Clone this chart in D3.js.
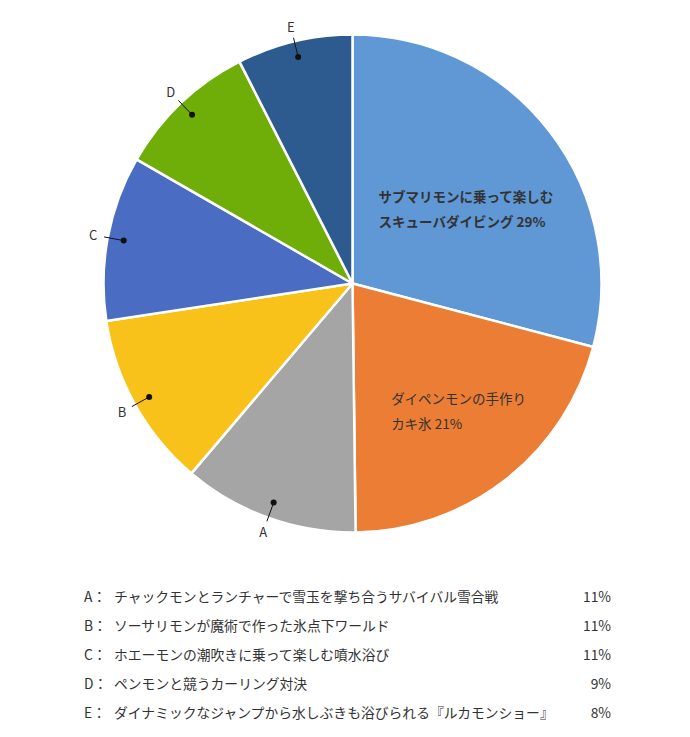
<!DOCTYPE html>
<html>
<head>
<meta charset="utf-8">
<script src="https://cdn.jsdelivr.net/npm/d3@7"></script>
<style>
  html, body { margin: 0; padding: 0; background: #fff; }
  svg text { font-family: "Noto Sans CJK JP", "Noto Sans", sans-serif; fill: #333; }
</style>
</head>
<body>
<div id="chart"></div>
<script>
(() => {
    const width = 690, height = 737;

    // slice order: clockwise from 12 o'clock
    const keys = ["main1", "main2", "A", "B", "C", "D", "E"];
    const shares = [29.1, 20.7, 11.4, 11.4, 10.7, 9.2, 7.5];
    const colors = ["#5F98D5", "#EB7D34", "#A5A5A5", "#F9C21A", "#4A6DC3", "#6FAD08", "#2E5B8F"];
    const insideLabels = [
        ["サブマリモンに乗って楽しむ", "スキューバダイビング"],
        ["ダイペンモンの手作り", "カキ氷"]
    ];
    const legendNames = [
        "チャックモンとランチャーで雪玉を撃ち合うサバイバル雪合戦",
        "ソーサリモンが魔術で作った氷点下ワールド",
        "ホエーモンの潮吹きに乗って楽しむ噴水浴び",
        "ペンモンと競うカーリング対決",
        "ダイナミックなジャンプから水しぶきも浴びられる『ルカモンショー』"
    ];

    const data = keys.map((k, i) => ({ key: k, value: shares[i], color: colors[i] }));
    const pct = v => `${Math.round(v)}%`;

    const svg = d3.select("#chart").append("svg")
        .attr("width", width)
        .attr("height", height);

    const cx = 352.5, cy = 283.5, R = 249;

    const g = svg.append("g").attr("transform", `translate(${cx},${cy})`);

    const pie = d3.pie().value(d => d.value).sort(null);
    const arcs = pie(data);
    const arc = d3.arc().innerRadius(0).outerRadius(R);

    g.selectAll("path.slice")
        .data(arcs)
        .enter()
        .append("path")
        .attr("class", "slice")
        .attr("d", arc)
        .attr("fill", d => d.data.color)
        .attr("stroke", "#fff")
        .attr("stroke-width", 2.5)
        .attr("stroke-linejoin", "round");

    // labels inside the two big slices (left aligned block)
    const blockR = [0.55, 0.66];
    const nudge = [[5, 10], [5, -2]];
    const bold = [true, false];
    [0, 1].forEach(i => {
        const a = arcs[i];
        const c = d3.arc().innerRadius(R * blockR[i]).outerRadius(R * blockR[i]).centroid(a);
        const t = g.append("text")
            .style("font-size", "13.5px")
            .style("font-weight", bold[i] ? "bold" : "normal");
        const l1 = t.append("tspan").text(insideLabels[i][0]);
        const l2 = t.append("tspan").text(insideLabels[i][1] + " " + pct(a.data.value));
        const w = Math.max(l1.node().getComputedTextLength(), l2.node().getComputedTextLength());
        const x0 = c[0] - w / 2 + nudge[i][0];
        const yc = c[1] + nudge[i][1];
        l1.attr("x", x0).attr("y", yc - 12.5 + 5);
        l2.attr("x", x0).attr("y", yc + 12.5 + 5);
    });

    // callouts A-E
    const dotArc = d3.arc().innerRadius(R * 0.935).outerRadius(R * 0.935);
    const lineArc = d3.arc().innerRadius(R * 1.015).outerRadius(R * 1.015);
    const textArc = d3.arc().innerRadius(R * 1.06).outerRadius(R * 1.06);

    const small = g.selectAll("g.callout")
        .data(arcs.slice(2))
        .enter()
        .append("g")
        .attr("class", "callout");

    small.append("line")
        .attr("x1", d => dotArc.centroid(d)[0])
        .attr("y1", d => dotArc.centroid(d)[1])
        .attr("x2", d => lineArc.centroid(d)[0])
        .attr("y2", d => lineArc.centroid(d)[1])
        .attr("stroke", "#111")
        .attr("stroke-width", 1);

    small.append("circle")
        .attr("cx", d => dotArc.centroid(d)[0])
        .attr("cy", d => dotArc.centroid(d)[1])
        .attr("r", 3)
        .attr("fill", "#111");

    small.append("text")
        .attr("x", d => textArc.centroid(d)[0])
        .attr("y", d => textArc.centroid(d)[1])
        .attr("dy", "0.4em")
        .attr("text-anchor", "middle")
        .style("font-size", "13px")
        .text(d => d.data.key);

    // legend list
    const legend = svg.append("g");
    const rows = legend.selectAll("g.row")
        .data(arcs.slice(2))
        .enter()
        .append("g")
        .attr("class", "row")
        .attr("transform", (d, i) => `translate(0,${597.5 + i * 29})`);

    rows.append("text")
        .attr("x", 84)
        .attr("dy", "0.35em")
        .style("font-size", "13.8px")
        .text(d => d.data.key + "：");

    rows.append("text")
        .attr("x", 114)
        .attr("dy", "0.35em")
        .style("font-size", "13.8px")
        .text((d, i) => legendNames[i]);

    rows.append("text")
        .attr("x", 611)
        .attr("dy", "0.35em")
        .attr("text-anchor", "end")
        .style("font-size", "13.8px")
        .text(d => pct(d.data.value));
})();
</script>
</body>
</html>
